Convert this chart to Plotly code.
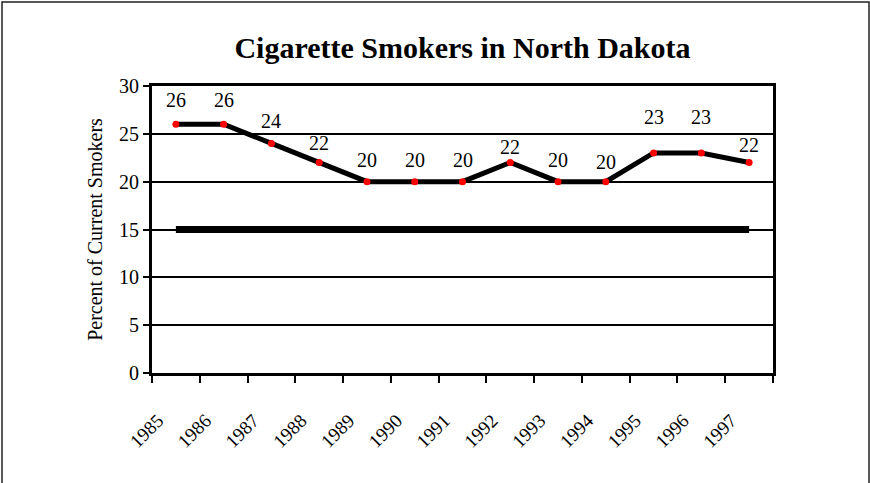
import plotly.graph_objects as go

years = ["1985", "1986", "1987", "1988", "1989", "1990", "1991",
         "1992", "1993", "1994", "1995", "1996", "1997"]
smokers = [26, 26, 24, 22, 20, 20, 20, 22, 20, 20, 23, 23, 22]
goal = [15] * len(years)
y_ticks = [0, 5, 10, 15, 20, 25, 30]

# style: vertical pixel lift of each data label above its point
label_lift = [24, 24, 22, 20, 22, 22, 22, 16, 22, 20, 36, 36, 18]

W, H = 870, 483
L, R, T, B = 152, 97, 86, 110
FONT = "Liberation Serif, Times New Roman, serif"

fig = go.Figure()
fig.add_trace(go.Scatter(x=years, y=goal, mode="lines",
                         line=dict(color="black", width=7),
                         hoverinfo="skip", showlegend=False))
fig.add_trace(go.Scatter(x=years, y=smokers, mode="lines+markers",
                         line=dict(color="black", width=5),
                         marker=dict(color="red", size=7),
                         showlegend=False))

for i, (v, lift) in enumerate(zip(smokers, label_lift)):
    fig.add_annotation(x=i, y=v, xref="x", yref="y", text=str(v), showarrow=False,
                       yshift=lift, font=dict(family=FONT, size=20, color="black"))

pw, ph = W - L - R, H - T - B
fig.add_shape(type="rect", xref="paper", yref="paper", layer="below",
              x0=(2 - L) / pw, x1=(869 - L) / pw,
              y0=(H - B - 490) / ph, y1=(H - B - 2) / ph,
              line=dict(color="#222222", width=1.5))

fig.update_layout(
    width=W, height=H,
    margin=dict(l=L, r=R, t=T, b=B),
    paper_bgcolor="white", plot_bgcolor="white",
    font=dict(family=FONT, color="black"),
    title=dict(text="<b>Cigarette Smokers in North Dakota</b>",
               font=dict(family=FONT, size=30, color="black"),
               x=0.5, xref="paper", xanchor="center",
               y=1 - 47 / H, yref="container", yanchor="middle"),
)
fig.update_xaxes(type="category", categoryorder="array", categoryarray=years,
                 range=[-0.5, len(years) - 0.5],
                 showline=True, linecolor="black", linewidth=3, mirror=True,
                 ticks="outside", ticklen=7, tickwidth=2, tickcolor="black",
                 tickson="boundaries", showgrid=False,
                 tickangle=-45, ticklabelstandoff=26, ticklabelshift=-18,
                 tickfont=dict(family=FONT, size=19, color="black"))
fig.update_yaxes(range=[0, 30], tickvals=y_ticks,
                 showline=True, linecolor="black", linewidth=3, mirror=True,
                 ticks="outside", ticklen=6, tickwidth=2, tickcolor="black",
                 showgrid=True, gridcolor="black", gridwidth=1.5, zeroline=False,
                 tickfont=dict(family=FONT, size=20, color="black"),
                 title=dict(text="Percent of Current Smokers",
                            font=dict(family=FONT, size=20, color="black"),
                            standoff=12))

fig.write_html("out.html")
